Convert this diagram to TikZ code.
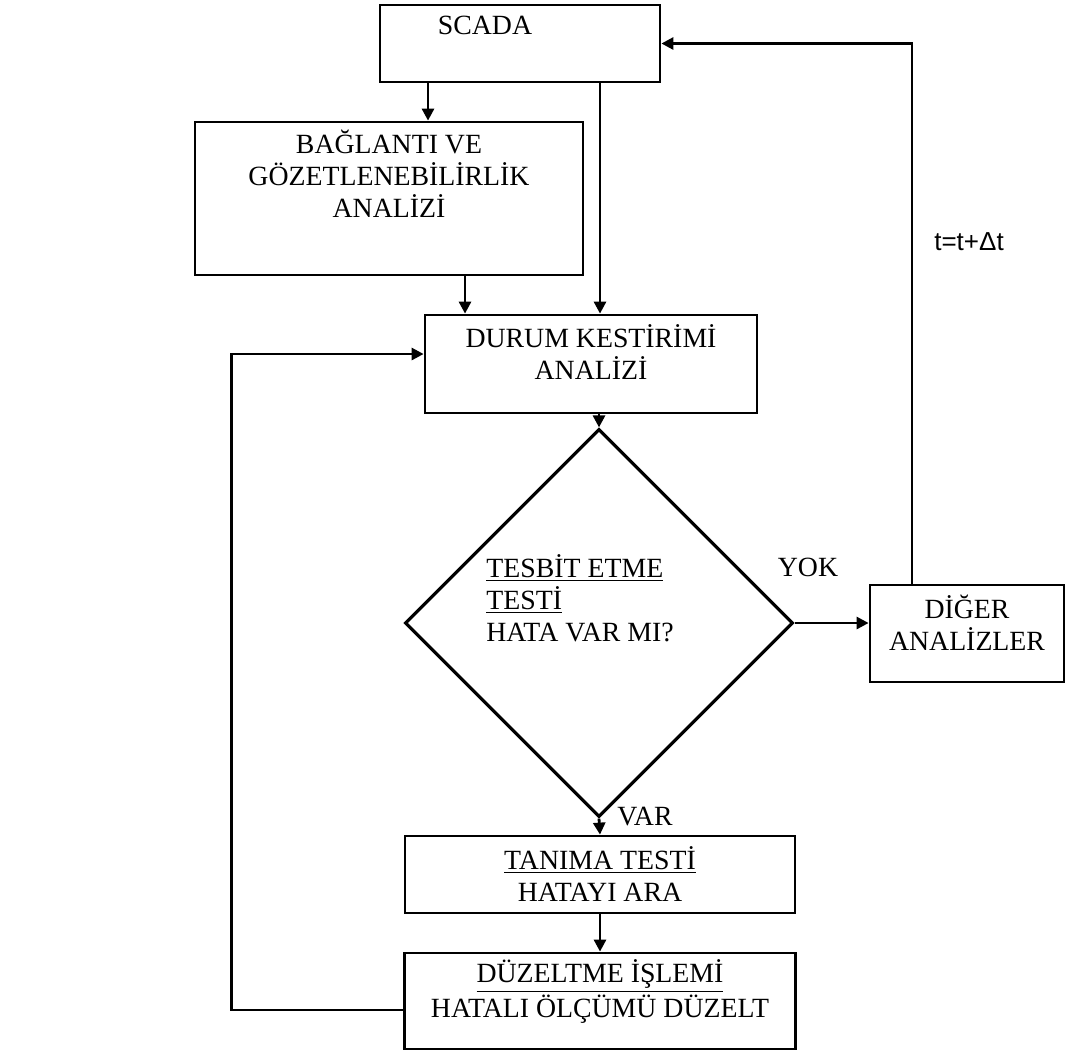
\documentclass[tikz,border=0pt]{standalone}
\usepackage{fontspec}
\setmainfont{Liberation Serif}
\newfontfamily\lsans{Liberation Sans}
\usetikzlibrary{shapes.geometric, arrows.meta, positioning, calc}

\begin{document}
\begin{tikzpicture}[x=0.5pt, y=-0.5pt,
            blk/.style={draw=black, line width=1.4pt, rectangle, inner sep=0pt},
            dm/.style={draw=black, line width=1.6pt, diamond, inner sep=0pt, minimum width=194pt, minimum height=194pt},
            ar/.style={draw=black, line width=1.4pt, -{Triangle[length=6pt, width=6pt]}},
            tx/.style={font=\fontsize{13.9pt}{16pt}\selectfont, align=center, inner sep=0pt}]
            \useasboundingbox (0,0) rectangle (1068,1051);
            % boxes
            \node[blk, minimum width=140pt, minimum height=38.5pt]   (scada)  at (520,43.5)  {};
            \node[blk, minimum width=194pt, minimum height=76.5pt]   (bag)    at (389,198.5) {};
            \node[blk, minimum width=166pt, minimum height=49pt]     (durum)  at (591,364)   {};
            \node[dm]                                                (test)   at (599,623)   {};
            \node[blk, minimum width=97pt, minimum height=48.5pt]    (diger)  at (967,633.5) {};
            \node[blk, minimum width=195pt, minimum height=38.5pt]   (tanima) at (600,874.5) {};
            \node[blk, minimum width=195.5pt, minimum height=48pt]   (duzelt) at (600,1001)  {};
            % texts
            \node[tx] (tscada)  at (485,25)    {SCADA};
            \node[tx] (tbag)    at (389,174)   {BAĞLANTI VE\\GÖZETLENEBİLİRLİK\\ANALİZİ};
            \node[tx] (tdurum)  at (591,352)   {DURUM KESTİRİMİ\\ANALİZİ};
            \node[tx, align=left, anchor=west] (ttest) at (486,598) {\underline{TESBİT ETME}\\\underline{TESTİ}\\HATA VAR MI?};
            \node[tx] (tdiger)  at (967,622.5) {DİĞER\\ANALİZLER};
            \node[tx] (ttanima) at (600,874)   {\underline{TANIMA TESTİ}\\HATAYI ARA};
            \node[tx] (tduzelt) at (600,991.5) {\underline{DÜZELTME İŞLEMİ}\\HATALI ÖLÇÜMÜ DÜZELT};
            \node[tx] (tyok)    at (808,567)   {YOK};
            \node[tx] (tvar)    at (645,817)   {VAR};
            \node[tx, font=\lsans\fontsize{13pt}{16pt}\selectfont] (tdt) at (969,242) {t=t+Δt};
            % connectors
            \draw[ar] ([xshift=-46pt]scada.south) -- ([xshift=-46pt]scada.south |- bag.north);
            \draw[ar] ([xshift=40pt]scada.south) -- ([xshift=40pt]scada.south |- durum.north);
            \draw[ar] ([xshift=38pt]bag.south) -- ([xshift=38pt]bag.south |- durum.north);
            \draw[ar] (test.north |- durum.south) -- (test.north);
            \draw[ar] (test.south) -- (tanima.north);
            \draw[ar] (tanima.south) -- (duzelt.north);
            \draw[ar] (test.east) -- (test.east -| diger.west);
            \draw[ar] ([xshift=-27.5pt]diger.north) |- (scada.east);
            \draw[ar] ([yshift=-4.5pt]duzelt.west) -- ++(-86pt,0) |- ([yshift=5pt]durum.west);
        \end{tikzpicture}
\end{document}
